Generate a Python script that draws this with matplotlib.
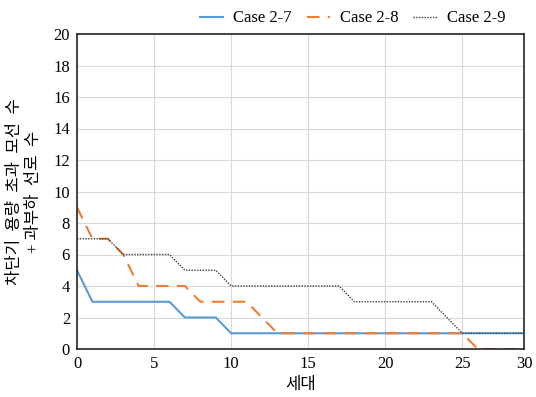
import matplotlib
matplotlib.use("Agg")
import matplotlib.pyplot as plt

plt.rcParams['font.family'] = ['Liberation Serif', 'Noto Sans CJK KR']

gen = list(range(30))
case27 = [5, 3, 3, 3, 3, 3, 3, 2, 2, 2, 1, 1, 1, 1, 1, 1, 1, 1, 1, 1, 1, 1, 1, 1, 1, 1, 1, 1, 1, 1]
case28 = [9, 7, 7, 6, 4, 4, 4, 4, 3, 3, 3, 3, 2, 1, 1, 1, 1, 1, 1, 1, 1, 1, 1, 1, 1, 1, 0, 0, 0, 0]
case29 = [7, 7, 7, 6, 6, 6, 6, 5, 5, 5, 4, 4, 4, 4, 4, 4, 4, 4, 3, 3, 3, 3, 3, 3, 2, 1, 1, 1, 1, 1]
xticks = [0, 5, 10, 15, 20, 25, 29]
xticklabels = ['0', '5', '10', '15', '20', '25', '30']

fig = plt.figure(figsize=(5.36, 3.97), dpi=100)
ax = fig.add_axes([77/536, 1 - 349/397, (524-77)/536, (349-34)/397])

ax.plot(gen, case27, color='#5B9BD5', lw=1.5, label='Case 2-7')
ax.plot(gen, case28, color='#ED7D31', lw=1.5, ls=(0, (6, 4)), label='Case 2-8')
ax.plot(gen, case29, color='#404040', lw=1.0, ls=(0, (1, 1)), label='Case 2-9')

ax.set_xlim(0, 29)
ax.set_ylim(0, 20)
ax.set_xticks(xticks)
ax.set_xticklabels(xticklabels)
ax.set_yticks(range(0, 21, 2))
ax.tick_params(length=0, labelsize=12, pad=5)
ax.grid(color='#D9D9D9', lw=0.8)
ax.set_axisbelow(True)
for s in ax.spines.values():
    s.set_color('#262626')
    s.set_linewidth(1.2)

ax.set_xlabel('세대', fontsize=12, labelpad=4)
ax.set_ylabel('차단기  용량  초과  모선  수\n+ 과부하  선로  수', fontsize=12, labelpad=8,
              linespacing=1.3)

ax.legend(loc='lower right', bbox_to_anchor=(0.975, 1.0), ncol=3, frameon=False,
          fontsize=12, handlelength=1.4, columnspacing=0.9, handletextpad=0.6,
          borderaxespad=0.05)

fig.savefig('out.png', dpi=100)
